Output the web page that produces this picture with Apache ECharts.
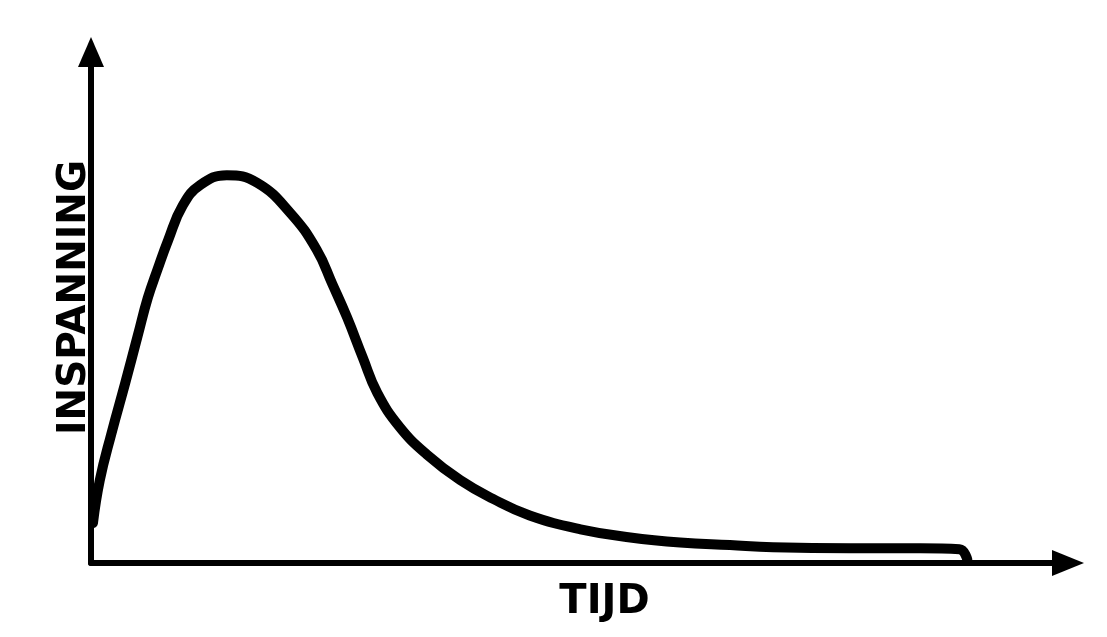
<!DOCTYPE html>
<html>
<head>
<meta charset="utf-8">
<script src="https://cdn.jsdelivr.net/npm/echarts@6/dist/echarts.min.js"></script>
<style>
html,body{margin:0;padding:0;background:#fff;}
#chart{width:1107px;height:637px;}
</style>
</head>
<body>
<div id="chart"></div>
<script>
// Time (x) and effort (y) samples, both on a 0–100 scale
const tijd = [0.2, 0.9, 2.1, 3.5, 4.8, 5.8, 6.8, 7.9, 9.4, 11.2, 13.9, 17.0, 20.4, 23.1, 24.7, 26.2, 27.8, 29.3, 31.6, 34.4, 37.8, 41.1, 44.9, 50.1, 55.2, 60.3, 65.4, 69.8, 77.7, 84.9, 88.9, 89.7];
const inspanning = [7.8, 16.2, 25.4, 35.2, 44.6, 51.8, 57.4, 63.2, 70.0, 74.0, 75.9, 74.4, 68.5, 61.3, 54.6, 48.1, 40.3, 33.3, 26.6, 21.2, 16.2, 12.6, 9.3, 6.6, 5.0, 4.0, 3.5, 3.1, 2.9, 2.9, 2.7, 0.6];
const xName = 'TIJD';
const yName = 'INSPANNING';

const points = tijd.map((t, i) => [t, inspanning[i]]);
const fontFamily = '"DejaVu Sans", sans-serif';

const chart = echarts.init(document.getElementById('chart'), null, {renderer: 'canvas'});
chart.setOption({
  animation: false,
  backgroundColor: '#ffffff',
  grid: {left: 91, right: 39, top: 52, bottom: 74, containLabel: false},
  xAxis: {
    type: 'value', min: 0, max: 100,
    name: xName, nameLocation: 'middle', nameGap: 20,
    nameTextStyle: {fontFamily, fontWeight: 'bold', fontSize: 40, color: '#000', padding: [0, 0, 0, 50]},
    axisLine: {show: true, symbol: ['none', 'triangle'], symbolSize: [26, 32],
      lineStyle: {color: '#000', width: 6, cap: 'round'}},
    axisTick: {show: false}, axisLabel: {show: false}, splitLine: {show: false}
  },
  yAxis: {
    type: 'value', min: 0, max: 100,
    name: yName, nameLocation: 'middle', nameGap: -3, nameRotate: 90,
    nameTextStyle: {fontFamily, fontWeight: 'bold', fontSize: 39, color: '#000', padding: [0, 0, 0, 20]},
    axisLine: {show: true, symbol: ['none', 'triangle'], symbolSize: [26, 30],
      lineStyle: {color: '#000', width: 6, cap: 'round'}},
    axisTick: {show: false}, axisLabel: {show: false}, splitLine: {show: false}
  },
  series: [{
    type: 'line',
    data: points,
    smooth: 0.45,
    showSymbol: false,
    lineStyle: {color: '#000', width: 10, cap: 'round', join: 'round'}
  }]
});
</script>
</body>
</html>
